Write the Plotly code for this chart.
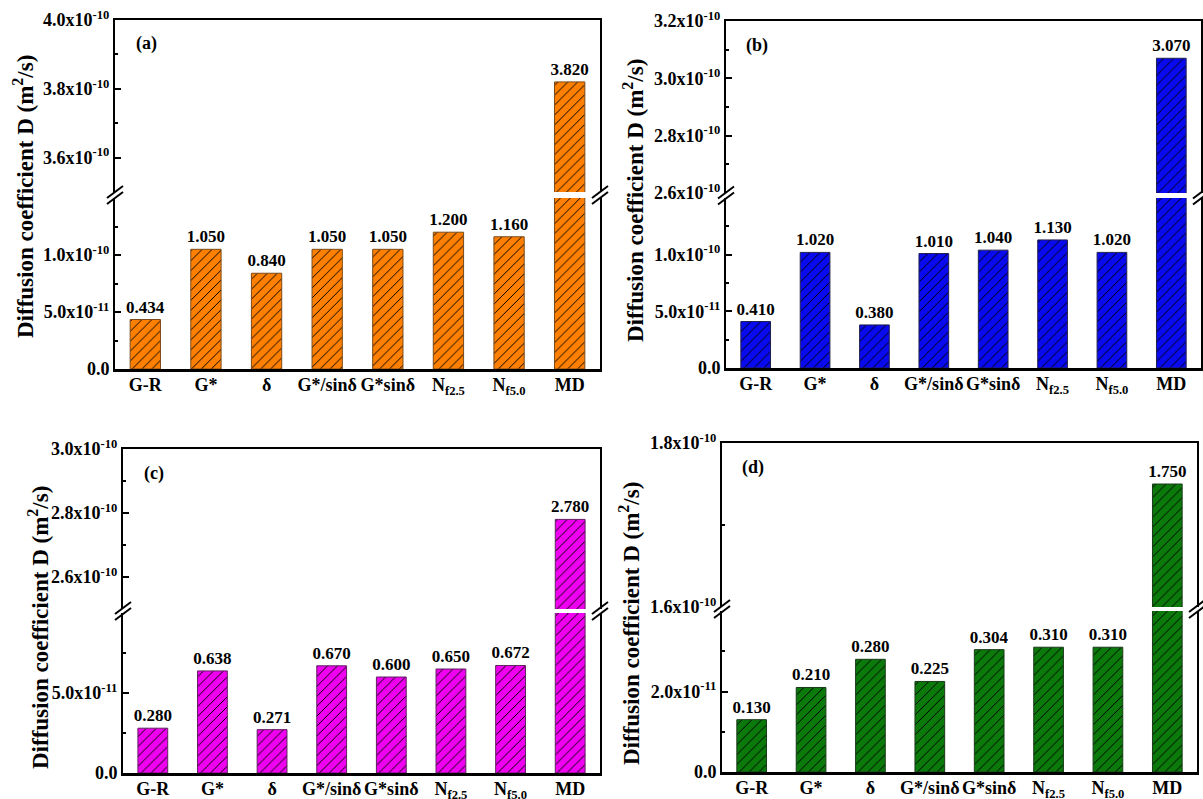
import plotly.graph_objects as go

# -----------------------------------------
# Chart data (diffusion coefficient D, m^2/s)
# -----------------------------------------
categories = ["G-R", "G*", "δ", "G*/sinδ", "G*sinδ",
              "N<sub>f2.5</sub>", "N<sub>f5.0</sub>", "MD"]

d_a = [0.434e-10, 1.050e-10, 0.840e-10, 1.050e-10, 1.050e-10, 1.200e-10, 1.160e-10, 3.820e-10]
d_b = [0.410e-10, 1.020e-10, 0.380e-10, 1.010e-10, 1.040e-10, 1.130e-10, 1.020e-10, 3.070e-10]
d_c = [0.280e-10, 0.638e-10, 0.271e-10, 0.670e-10, 0.600e-10, 0.650e-10, 0.672e-10, 2.780e-10]
d_d = [0.130e-10, 0.210e-10, 0.280e-10, 0.225e-10, 0.304e-10, 0.310e-10, 0.310e-10, 1.750e-10]

panel_labels = ["(a)", "(b)", "(c)", "(d)"]

# broken y axis: lower and upper ranges
low_ranges = [[0, 1.5e-10], [0, 1.5e-10], [0, 1.0e-10], [0, 4.0e-11]]
up_ranges = [[3.5e-10, 4.0e-10], [2.6e-10, 3.2e-10], [2.5e-10, 3.0e-10], [1.6e-10, 1.8e-10]]

# tick values / labels of each segment
low_ticks = [[0, 5e-11, 1e-10], [0, 5e-11, 1e-10], [0, 5e-11], [0, 2e-11]]
low_text = [["0.0", "5.0x10<sup>-11</sup>", "1.0x10<sup>-10</sup>"],
            ["0.0", "5.0x10<sup>-11</sup>", "1.0x10<sup>-10</sup>"],
            ["0.0", "5.0x10<sup>-11</sup>"],
            ["0.0", "2.0x10<sup>-11</sup>"]]
low_minor = [[2.5e-11, 7.5e-11, 1.25e-10], [2.5e-11, 7.5e-11, 1.25e-10],
             [2.5e-11, 7.5e-11], [1e-11, 3e-11]]
up_ticks = [[3.6e-10, 3.8e-10, 4.0e-10], [2.6e-10, 2.8e-10, 3.0e-10, 3.2e-10],
            [2.6e-10, 2.8e-10, 3.0e-10], [1.6e-10, 1.8e-10]]
up_text = [["3.6x10<sup>-10</sup>", "3.8x10<sup>-10</sup>", "4.0x10<sup>-10</sup>"],
           ["2.6x10<sup>-10</sup>", "2.8x10<sup>-10</sup>", "3.0x10<sup>-10</sup>", "3.2x10<sup>-10</sup>"],
           ["2.6x10<sup>-10</sup>", "2.8x10<sup>-10</sup>", "3.0x10<sup>-10</sup>"],
           ["1.6x10<sup>-10</sup>", "1.8x10<sup>-10</sup>"]]
up_minor = [[3.7e-10, 3.9e-10], [2.7e-10, 2.9e-10, 3.1e-10], [2.7e-10, 2.9e-10], [1.7e-10]]

# -----------------------------------------
# Styling / page geometry (pixels)
# -----------------------------------------
W, H = 1203, 799
FONT = "Liberation Serif, Times New Roman, serif"
colors = ["#FF8000", "#0A0AEE", "#F000F0", "#0B7A0B"]
edges = ["#7A4A1A", "#202050", "#602060", "#1A3A1A"]

# x0, x1, lower bottom, lower top, upper bottom, upper top
geom = [
    (115, 600, 369, 198, 192, 20),
    (726, 1201, 368, 198, 193, 21),
    (123, 600, 773, 613, 609, 449),
    (722, 1197, 772, 611, 607, 443),
]
title_pos = [(23, 197), (633, 201), (38, 628), (629, 624)]


def fx(x):
    return x / W


def fy(y):
    return 1 - y / H


fig = go.Figure()
layout = {}
shapes = []
annotations = []
data_sets = [d_a, d_b, d_c, d_d]

for i, vals in enumerate(data_sets):
    x0, x1, lb, lt, ub, ut = geom[i]
    lo, up = 2 * i + 1, 2 * i + 2
    n = len(vals)
    low_max = low_ranges[i][1]
    labels = ["%.3f" % (v / 1e-10) for v in vals]

    # lower segment: all bars, labels only on bars that end inside it
    fig.add_trace(go.Bar(
        x=categories, y=vals,
        xaxis="x%d" % lo, yaxis="y%d" % lo,
        width=0.5,
        marker=dict(
            color=colors[i],
            line=dict(color=edges[i], width=1),
            pattern=dict(shape="/", fgcolor="black", bgcolor=colors[i],
                         size=7, solidity=0.14, fillmode="replace"),
        ),
        text=labels,
        textposition=["outside" if v <= low_max else "none" for v in vals],
        constraintext="none", cliponaxis=False,
        textfont=dict(family=FONT, size=17, color="black", weight="bold"),
        hoverinfo="x+y",
    ))

    # upper segment: only the bars that cross the break
    big = [k for k, v in enumerate(vals) if v > low_max]
    fig.add_trace(go.Bar(
        x=[categories[k] for k in big], y=[vals[k] for k in big],
        xaxis="x%d" % up, yaxis="y%d" % up,
        width=0.5,
        marker=dict(
            color=colors[i],
            line=dict(color=edges[i], width=1),
            pattern=dict(shape="/", fgcolor="black", bgcolor=colors[i],
                         size=7, solidity=0.14, fillmode="replace"),
        ),
        text=[labels[k] for k in big], textposition="outside",
        constraintext="none", cliponaxis=False,
        textfont=dict(family=FONT, size=17, color="black", weight="bold"),
        hoverinfo="x+y",
    ))

    tickfont = dict(family=FONT, size=18, color="black", weight="bold")

    # x axes (upper one only draws the top frame line)
    layout["xaxis%d" % lo] = dict(
        domain=[fx(x0), fx(x1)], anchor="y%d" % lo,
        type="category", categoryorder="array", categoryarray=categories,
        range=[-0.5, n - 0.5], automargin=False,
        showline=True, linewidth=2.5, linecolor="black",
        ticks="", ticklabelstandoff=-2,
        tickfont=dict(family=FONT, size=18, color="black", weight="bold"),
        showgrid=False, zeroline=False,
    )
    layout["xaxis%d" % up] = dict(
        domain=[fx(x0), fx(x1)], anchor="y%d" % up, matches="x%d" % lo,
        type="category", categoryorder="array", categoryarray=categories,
        side="top", automargin=False,
        showline=True, linewidth=2, linecolor="black",
        showticklabels=False, ticks="", showgrid=False, zeroline=False,
    )

    # y axes
    for ax_id, rng, tv, tt, mv, (b, t) in (
        (lo, low_ranges[i], low_ticks[i], low_text[i], low_minor[i], (lb, lt)),
        (up, up_ranges[i], up_ticks[i], up_text[i], up_minor[i], (ub, ut)),
    ):
        layout["yaxis%d" % ax_id] = dict(
            domain=[fy(b), fy(t)], anchor="x%d" % ax_id,
            range=rng, tickmode="array", tickvals=tv, ticktext=tt,
            ticks="inside", ticklen=6, tickwidth=2, tickcolor="black",
            minor=dict(tickmode="array", tickvals=mv, ticks="inside",
                       ticklen=3, tickwidth=2, tickcolor="black"),
            showline=True, linewidth=2, linecolor="black", mirror=True,
            showgrid=False, zeroline=False, tickfont=tickfont,
            automargin=False,
        )

    # break marks "//" on both sides of the frame
    gy = (lt + ub) / 2.0
    for xe in (x0, x1):
        for dy in (-3, 3):
            shapes.append(dict(
                type="line", xref="paper", yref="paper",
                x0=fx(xe - 8), y0=fy(gy + dy + 6),
                x1=fx(xe + 8), y1=fy(gy + dy - 6),
                line=dict(color="black", width=2),
            ))

    # panel tag and y title
    annotations.append(dict(
        text=panel_labels[i], xref="paper", yref="paper",
        x=fx(x0 + 31), y=fy(ut + 24), showarrow=False,
        xanchor="center", yanchor="middle",
        font=dict(family=FONT, size=18, color="black", weight="bold"),
    ))
    tx, ty = title_pos[i]
    annotations.append(dict(
        text="Diffusion coefficient D (m<sup>2</sup>/s)",
        xref="paper", yref="paper", x=fx(tx), y=fy(ty),
        xanchor="center", yanchor="middle",
        textangle=-90, showarrow=False,
        font=dict(family=FONT, size=23, color="black", weight="bold"),
    ))

fig.update_layout(
    width=W, height=H,
    margin=dict(l=0, r=0, t=0, b=0, autoexpand=False),
    paper_bgcolor="white", plot_bgcolor="white",
    showlegend=False, barmode="group",
    shapes=shapes, annotations=annotations,
    **layout,
)

# drop the browser's default page margin so the figure sits at (0, 0)
fig.write_html("out.html", config={"displayModeBar": False},
               post_script="document.body.style.margin='0px';")
